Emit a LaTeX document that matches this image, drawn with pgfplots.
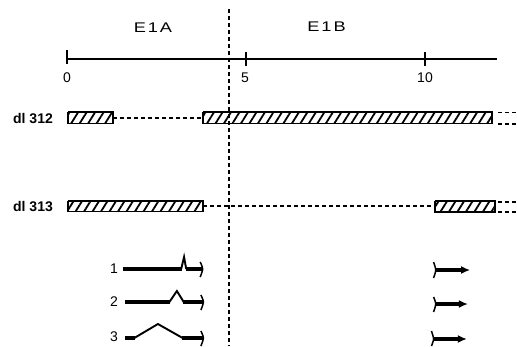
\documentclass[border=0pt]{standalone}
\usepackage{fontspec}
\setmainfont{Liberation Sans}
\newfontfamily\lab[FakeStretch=1.3,LetterSpace=14]{Liberation Sans}
\usepackage{pgfplots}
\pgfplotsset{compat=1.18}
\usetikzlibrary{patterns.meta,arrows.meta}

\begin{document}
\begin{tikzpicture}
\begin{axis}[
  at={(0,0)}, anchor=south west,
  width=517pt, height=346pt, scale only axis,
  xmin=-1.8715, xmax=12.5698, ymin=0, ymax=346, y dir=reverse,
  axis lines=none, clip=false,
]
\tikzset{
  hatch/.style={draw=black, line width=1.7pt,
    pattern={Lines[angle=58,distance=7.2pt,line width=1.8pt]}},
  dsh/.style={black, line width=1.9pt, dash pattern=on 4pt off 3pt},
  thk/.style={black, line width=3.2pt},
  thn/.style={black, line width=1.9pt, line join=miter},
  tk/.style={font=\fontsize{14}{16}\selectfont},
}
% scale axis
\addplot[black, line width=1.9pt] coordinates {(0,59) (12.0,59)};
\addplot[black, line width=1.6pt] coordinates {(0,50) (0,64)};
\addplot[black, line width=1.6pt] coordinates {(5,52) (5,66)};
\addplot[black, line width=1.6pt] coordinates {(10,52) (10,66)};
\node[tk] at (axis cs:0,77.5) {0};
\node[tk] at (axis cs:4.97,78) {5};
\node[tk] at (axis cs:10,78) {10};
% region labels
\node[font=\lab\fontsize{14}{16}\selectfont] at (axis cs:2.40,27.5) {E1A};
\node[font=\lab\fontsize{14}{16}\selectfont] at (axis cs:7.25,26.5) {E1B};
% boundary
\addplot[dsh] coordinates {(4.525,9) (4.525,346)};
% dl 312
\node[font=\bfseries\fontsize{14}{16}\selectfont] at (axis cs:-0.95,118.5) {dl 312};
\addplot[hatch] coordinates {(0.03,112) (1.28,112) (1.28,123.5) (0.03,123.5) (0.03,112)};
\addplot[dsh] coordinates {(1.28,118) (3.80,118)};
\addplot[hatch] coordinates {(3.80,112) (11.87,112) (11.87,123.5) (3.80,123.5) (3.80,112)};
\addplot[dsh] coordinates {(12.04,112.5) (12.57,112.5)};
\addplot[dsh] coordinates {(12.04,124) (12.57,124)};
% dl 313
\node[font=\bfseries\fontsize{14}{16}\selectfont] at (axis cs:-0.95,206.5) {dl 313};
\addplot[hatch] coordinates {(0.03,201) (3.80,201) (3.80,211.5) (0.03,211.5) (0.03,201)};
\addplot[dsh] coordinates {(3.80,206) (10.28,206)};
\addplot[hatch] coordinates {(10.28,201) (11.96,201) (11.96,212) (10.28,212) (10.28,201)};
\addplot[dsh] coordinates {(12.03,202) (12.57,202)};
\addplot[dsh] coordinates {(12.03,212) (12.57,212)};
% transcripts
\node[font=\fontsize{14}{16}\selectfont] at (axis cs:1.31,269) {1};
\node[font=\fontsize{14}{16}\selectfont] at (axis cs:1.31,302) {2};
\node[font=\fontsize{14}{16}\selectfont] at (axis cs:1.31,337) {3};
% 1
\addplot[thk] coordinates {(1.56,269) (3.21,269)};
\addplot[thn] coordinates {(3.19,269) (3.27,257) (3.33,269)};
\addplot[thk] coordinates {(3.33,269) (3.77,269)};
\addplot[black, line width=1.5pt, smooth] coordinates {(3.72,262) (3.79,269) (3.72,277)};
% 2
\addplot[thk] coordinates {(1.62,302) (2.88,302)};
\addplot[thn] coordinates {(2.86,302) (3.07,291) (3.26,302)};
\addplot[thk] coordinates {(3.24,302) (3.79,302)};
\addplot[black, line width=1.5pt, smooth] coordinates {(3.74,295) (3.81,302) (3.74,310)};
% 3
\addplot[thk] coordinates {(1.62,338) (1.90,338)};
\addplot[thn] coordinates {(1.88,338) (2.54,324) (3.23,338)};
\addplot[thk] coordinates {(3.21,338) (3.79,338)};
\addplot[black, line width=1.5pt, smooth] coordinates {(3.74,331) (3.81,338) (3.74,346)};
% E1B arrows
\addplot[black, line width=1.5pt, smooth] coordinates {(10.24,262) (10.30,270) (10.24,278)};
\addplot[black, line width=3.2pt, -{Latex[length=9pt,width=8pt]}] coordinates {(10.28,270) (11.26,270)};
\addplot[black, line width=1.5pt, smooth] coordinates {(10.24,297) (10.30,304) (10.24,312)};
\addplot[black, line width=3.2pt, -{Latex[length=9pt,width=8pt]}] coordinates {(10.28,304) (11.20,304)};
\addplot[black, line width=1.5pt, smooth] coordinates {(10.18,331) (10.24,339) (10.18,346)};
\addplot[black, line width=3.2pt, -{Latex[length=9pt,width=8pt]}] coordinates {(10.22,339) (11.17,339)};
\end{axis}
\pgfresetboundingbox
\path[use as bounding box] (0,0) rectangle (517pt,346pt);
\end{tikzpicture}
\end{document}
